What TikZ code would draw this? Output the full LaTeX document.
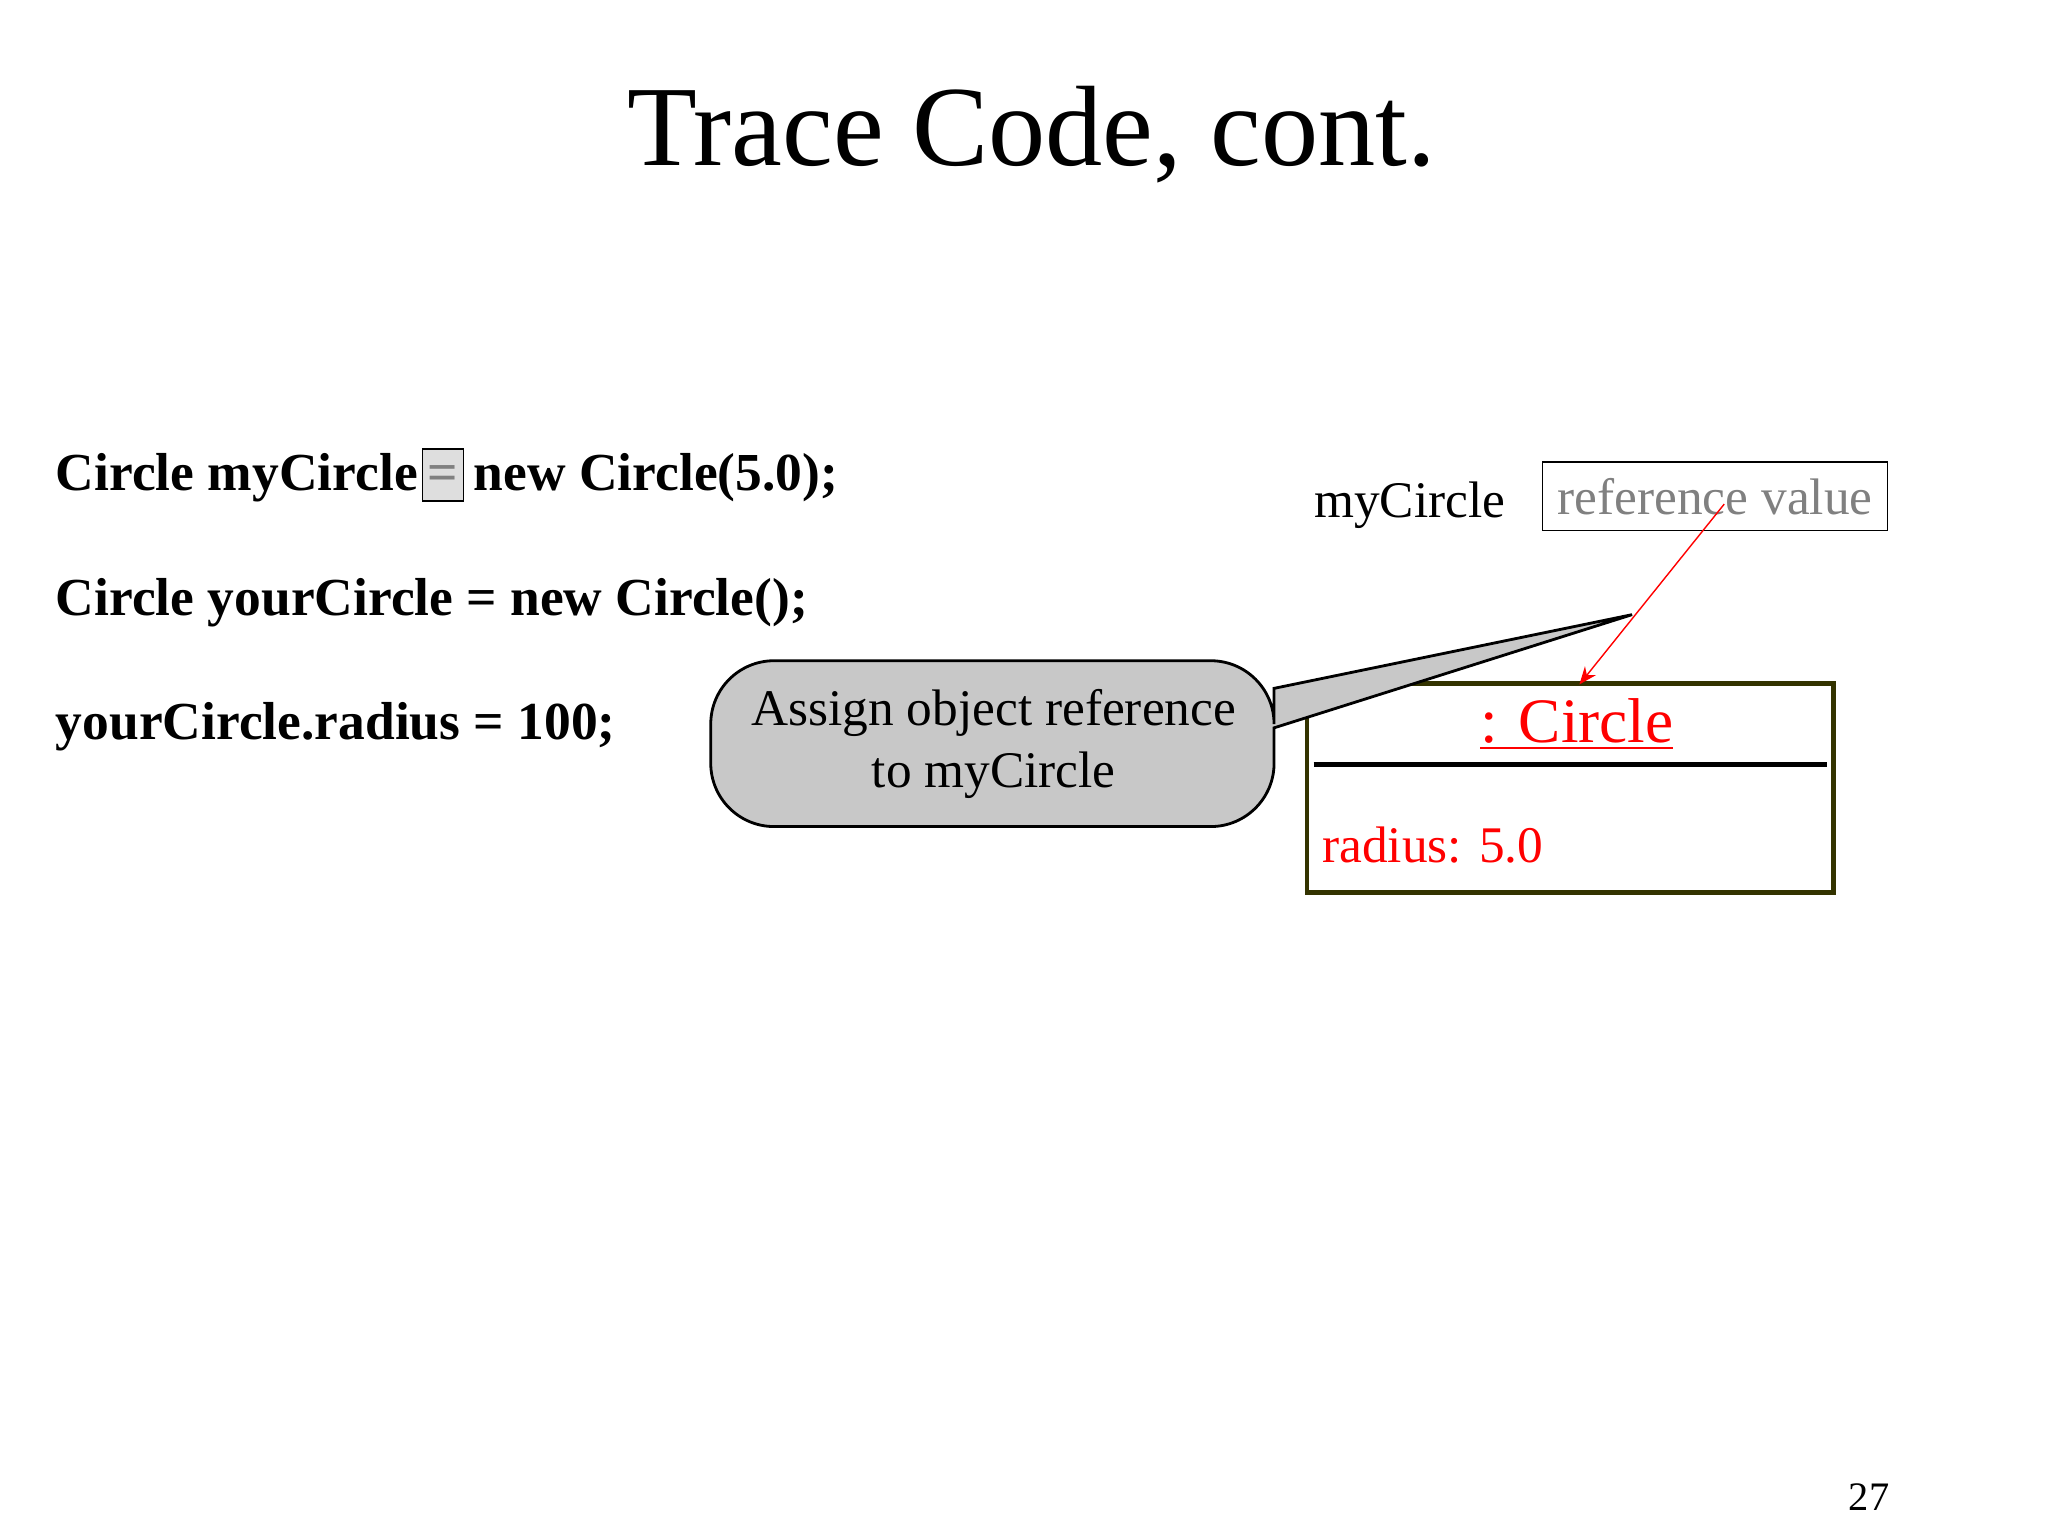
\documentclass[tikz,border=0pt]{standalone}
\usepackage{fontspec}
\setmainfont{Liberation Serif}
\usetikzlibrary{arrows.meta}
\definecolor{boxgray}{RGB}{200,200,200}
\definecolor{olive}{RGB}{51,51,0}
\tikzset{
  code/.style={anchor=base west,inner sep=0pt,font=\fontsize{15.2}{18}\selectfont\bfseries},
  plain/.style={anchor=base west,inner sep=0pt,font=\fontsize{14.6}{17.6}\selectfont},
}
\begin{document}
\begin{tikzpicture}[x=0.01316cm,y=-0.01316cm]
\useasboundingbox (0,0) rectangle (1556,1167);
\node[inner sep=0pt,anchor=base,font=\fontsize{32.5}{38}\selectfont] (title) at (784,126) {Trace Code, cont.};
% code
\node[code] (l1a) at (42,373) {Circle myCircle};
\node[draw,fill=boxgray!60,anchor=base west,inner xsep=1.5pt,inner ysep=0pt,text depth=0.1cm,text height=0.42cm,font=\fontsize{15.2}{18}\selectfont\bfseries,text=gray] (eq) at ([xshift=1pt]l1a.base east) {=};
\node[code] (l1b) at ([xshift=2.5pt]eq.base east) {new Circle(5.0);};
\node[code] (l2) at (42,468) {Circle yourCircle = new Circle();};
\node[code] (l3) at (42,562) {yourCircle.radius = 100;};
% reference
\node[plain] (my) at (998,393) {myCircle};
\node[draw,minimum width=3.45cm,minimum height=0.68cm,inner sep=0pt,text=gray,font=\fontsize{14.6}{17.6}\selectfont] (ref) at (1303,377) {reference value};
% object
\draw[olive,line width=1.4pt] (993,519) rectangle (1393,678);
\node[inner sep=0pt] (obj) at (1193,519) {};
\draw[line width=1.4pt] (998,581) -- (1388,581);
\node[anchor=base,inner sep=0pt,text=red,font=\fontsize{18}{21}\selectfont] (cls) at (1198,564) {\underline{: Circle}};
\node[plain,text=red] (rad) at (1004,655) {radius: 5.0};
\coordinate (s) at (1310,383);
\draw[red,-{Stealth[length=5pt,width=4pt]}] (s) -- (1200,520);
% callout
\coordinate (tip) at (1240,467);
\draw[fill=boxgray,line width=0.8pt] (968,523) -- (tip) -- (968,553) [rounded corners=18]-- (968,628) -- (540,628) -- (540,502) -- (968,502) [sharp corners]-- cycle;
\node[align=center,inner sep=0pt,font=\fontsize{14.6}{17.6}\selectfont] (call) at (755,565) {Assign object reference\\to myCircle};
\node[anchor=base,inner sep=0pt,font=\fontsize{11.5}{14}\selectfont] (pg) at (1420,1148) {27};
\end{tikzpicture}
\end{document}
